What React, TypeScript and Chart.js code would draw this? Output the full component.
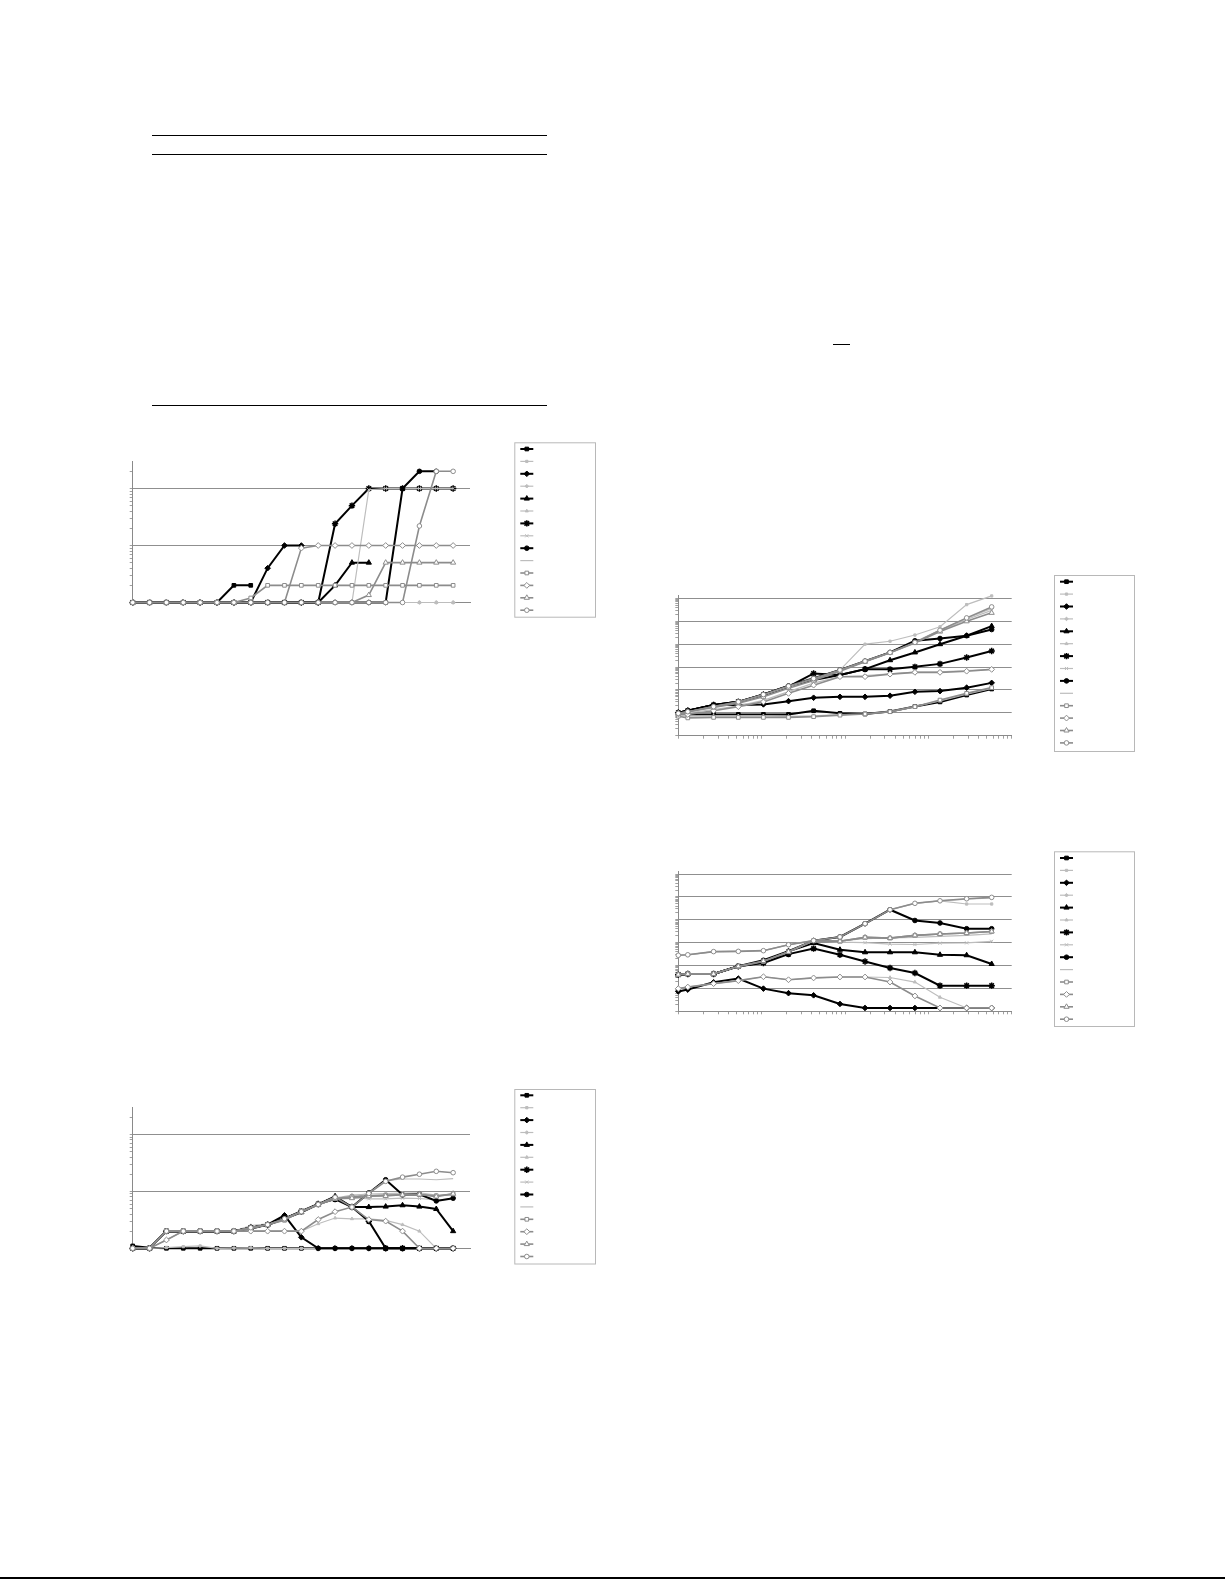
import React, { useEffect, useRef } from 'react';
import { Chart, registerables } from 'chart.js';
import { drawPoint } from 'chart.js/helpers';

Chart.register(...registerables);

// ---------------- data ----------------
const LEFT_X = [0, 1, 2, 3, 4, 5, 6, 7, 8, 9, 10, 11, 12, 13, 14, 15, 16, 17, 18, 19];
const RIGHT_X = [1, 1.3, 2.65, 5.25, 10.5, 21, 42, 87, 174, 347, 690, 1380, 2880, 5750];

const LEFT_Y_TICKS = [1, 2, 3, 4, 5, 6, 7, 8, 9, 10, 20, 30, 40, 50, 60, 70, 80, 90, 100, 200];
const LEFT_Y_MAX = 295;
const RIGHT_Y_MAX = 1318000;
const RIGHT_X_MAX = 10000;

const _ = null;

// top-left chart
const TL_S1 = [1, 1, 1, 1, 1, 1, 2, 2, _, _, _, _, _, _, _, _, _, _, _, _];
const TL_S2 = [1, 1, 1, 1, 1, 1, 1, 1, 1, 1, 1, 1, 1, 1, 1, 1, 1, 1, 1, 1];
const TL_S3 = [1, 1, 1, 1, 1, 1, 1, 1, 4, 10, 10, _, _, _, _, _, _, _, _, _];
const TL_S4 = [1, 1, 1, 1, 1, 1, 1, 1, 1, 1, 1, 1, 1, 1, 1, 1, 1, 1, 1, 1];
const TL_S5 = [1, 1, 1, 1, 1, 1, 1, 1, 1, 1, 1, 1, 2, 5, 5, _, _, _, _, _];
const TL_S6 = [1, 1, 1, 1, 1, 1, 1, 1, 1, 1, 1, 1, 1, 1, 1, 1, 1, 1, 1, 1];
const TL_S7 = [1, 1, 1, 1, 1, 1, 1, 1, 1, 1, 1, 1, 24, 50, 100, 100, 100, 100, 100, 100];
const TL_S8 = [1, 1, 1, 1, 1, 1, 1, 1, 1, 1, 1, 1, 1, 1, 95, 100, 100, 100, 100, 100];
const TL_S9 = [1, 1, 1, 1, 1, 1, 1, 1, 1, 1, 1, 1, 1, 1, 1, 1, 100, 200, 200, _];
const TL_S10 = [1, 1, 1, 1, 1, 1, 1, 1, 1, 1, 1, 1, 1, 1, 1, 1, 1, 1, 1, 1];
const TL_S11 = [1, 1, 1, 1, 1, 1, 1, 1.2, 2, 2, 2, 2, 2, 2, 2, 2, 2, 2, 2, 2];
const TL_S12 = [1, 1, 1, 1, 1, 1, 1, 1, 1, 1, 9, 10, 10, 10, 10, 10, 10, 10, 10, 10];
const TL_S13 = [1, 1, 1, 1, 1, 1, 1, 1, 1, 1, 1, 1, 1, 1, 1.35, 5, 5, 5, 5, 5];
const TL_S14 = [1, 1, 1, 1, 1, 1, 1, 1, 1, 1, 1, 1, 1, 1, 1, 1, 1, 22, 200, 200];

// bottom-left chart
const BL_S1 = [1.1, 1.02, 1, 1, 1, 1, 1, 1, 1, 1, 1, 1, 1, 1, 1, 1, 1, 1, 1, 1];
const BL_S2 = [1, 1, 1.03, 1.07, 1.1, 1, 1.01, 1.02, 1, 1, 1, 1, 1, 1, 1, 1, 1, 1, 1, 1];
const BL_S3 = [1, 1, 2, 2, 2, 2, 2, 2.2, 2.6, 3.8, 1.56, 1, 1, 1, 1, 1, 1, 1, 1, 1];
const BL_S4 = [1, 1, 2, 2, 2, 2, 2, 2.5, 2.7, 3.2, 4.4, 5.8, 7.6, 8.6, 9.0, 9.1, 9.3, 9.4, 8.6, 8.5];
const BL_S5 = [1, 1, 2, 2, 2, 2, 2, 2.3, 2.6, 3.3, 4.3, 5.9, 8.2, 5.3, 5.3, 5.4, 5.7, 5.4, 4.9, 2.0];
const BL_S6 = [1, 1, 1.4, 2, 2, 2, 2, 2, 2, 2, 2, 2.7, 3.4, 3.3, 3.3, 3.1, 2.6, 2.0, 1, 1];
const BL_S7 = [1, 1, 2, 2, 2, 2, 2, 2.3, 2.6, 3.3, 4.5, 6.0, 7.3, 5.3, 3.0, 1, 1, 1, 1, 1];
const BL_S8 = [1, 1, 2, 2, 2, 2, 2, 2.3, 2.6, 3.3, 4.4, 5.9, 7.6, 7.8, 7.4, 7.4, 7.6, 7.5, 7.1, 7.2];
const BL_S9 = [1, 1, 2, 2, 2, 2, 2, 2.3, 2.6, 3.3, 4.4, 5.9, 7.9, 5.3, 9.4, 16, 8.7, 8.9, 6.8, 7.6];
const BL_S10 = [1, 1, 2, 2, 2, 2, 2, 2.3, 2.6, 3.3, 4.4, 5.9, 7.9, 7.5, 9.4, 15.5, 16.5, 16.5, 16, 16.7];
const BL_S11 = [1, 1, 2, 2, 2, 2, 2, 2.2, 2.6, 3.1, 4.5, 5.8, 7.5, 8.1, 8.4, 8.6, 8.7, 8.8, 8.4, 9.0];
const BL_S12 = [1, 1, 1.4, 2, 2, 2, 2, 2, 2, 2, 2, 3.2, 4.4, 5.3, 3.2, 3.0, 2.0, 1, 1, 1];
const BL_S13 = [1, 1, 2, 2, 2, 2, 2, 2.3, 2.6, 3.2, 4.4, 5.8, 7.4, 7.6, 8.2, 8.3, 8.7, 8.8, 8.1, 9.1];
const BL_S14 = [1, 1, 2, 2, 2, 2, 2, 2.3, 2.6, 3.3, 4.4, 5.9, 7.9, 5.3, 9.2, 15, 17.8, 20, 22.5, 21.3];

// top-right chart
const TR_S1 = [9.3, 8.5, 8.5, 8.5, 8.5, 8.5, 12.3, 9.5, 8.9, 11.5, 19, 30, 60, 110];
const TR_S2 = [10, 12.3, 21.9, 31.6, 66, 158, 355, 741, 10000, 13490, 25120, 57540, 537000, 1288000];
const TR_S3 = [10, 12.3, 21.9, 21.9, 23.4, 32.4, 45.7, 50, 50, 56, 83, 89, 126, 204];
const TR_S4 = [9.8, 11.5, 19.5, 32, 66, 155, 330, 760, 1900, 4500, 12500, 42000, 135000, 363000];
const TR_S5 = [10, 12.3, 21.9, 30.2, 63, 148, 269, 447, 813, 1995, 4365, 10000, 23440, 61660];
const TR_S6 = [8, 7.2, 7.4, 7.4, 7.4, 7.0, 7.4, 8.3, 8.9, 11.2, 18.6, 33, 66, 117];
const TR_S7 = [10, 12.3, 21.9, 30.2, 60, 138, 525, 447, 813, 794, 1023, 1380, 2630, 5012];
const TR_S8 = [9.5, 10, 14, 20, 35, 85, 200, 380, 420, 500, 600, 620, 700, 800];
const TR_S9 = [10, 12.3, 21.9, 30.2, 63, 148, 316, 741, 1820, 4365, 14125, 17780, 23440, 43650];
const TR_S10 = [9.5, 11, 19, 29, 60, 140, 300, 700, 1750, 4200, 11500, 38000, 120000, 300000];
const TR_S11 = [7.1, 6.0, 6.3, 6.3, 6.3, 6.3, 6.8, 7.9, 8.9, 11.2, 18.6, 36, 71, 126];
const TR_S12 = [8.9, 8.5, 12.3, 18.6, 30, 71, 162, 380, 380, 490, 589, 589, 661, 794];
const TR_S13 = [9.5, 11.2, 17, 26, 50, 120, 260, 650, 1700, 4200, 11200, 35500, 100000, 234400];
const TR_S14 = [9.5, 11.2, 18.6, 30.2, 63, 148, 316, 741, 1820, 4365, 12020, 40740, 141250, 426580];

// bottom-right chart
const BR_S1 = [_, _, _, _, _, _, _, _, _, _, _, _, _, _];
const BR_S2 = [282, 295, 407, 417, 447, 813, 1230, 1778, 6760, 27540, 52480, 67610, 49000, 49000];
const BR_S3 = [7.4, 8.9, 18.6, 26.9, 9.8, 6.2, 5.0, 2.1, 1.4, 1.4, 1.4, 1.4, 1.4, 1.4];
const BR_S4 = [282, 295, 407, 417, 447, 813, 1230, 1778, 6760, 27540, 52480, 67610, 80000, 90000];
const BR_S5 = [40, 43, 43, 93, 135, 417, 955, 490, 380, 380, 380, 295, 282, 117];
const BR_S6 = [9.8, 11.5, 16.2, 21.9, 32.4, 24, 28.8, 31.6, 31.6, 30, 19, 4.1, 1.4, 1.4];
const BR_S7 = [40, 43, 43, 93, 129, 316, 550, 295, 151, 78, 47, 13.2, 13.2, 13.2];
const BR_S8 = [40, 43, 43, 93, 158, 398, 1230, 1050, 1000, 870, 830, 950, 980, 1150];
const BR_S9 = [40, 43, 43, 93, 170, 420, 1230, 1778, 6760, 27540, 9330, 7244, 4074, 4074];
const BR_S10 = [40, 43, 43, 93, 150, 400, 1200, 1200, 1500, 1600, 1700, 1900, 2100, 2400];
const BR_S11 = [40, 43, 43, 90, 150, 400, 1200, 1148, 1700, 1585, 2090, 2400, 2630, 3090];
const BR_S12 = [9.8, 11.5, 16.2, 21.9, 32.4, 24, 28.8, 31.6, 31.6, 19, 4.7, 1.4, 1.4, 1.4];
const BR_S13 = [40, 43, 43, 93, 158, 398, 1230, 1148, 1700, 1585, 2090, 2400, 2630, 3090];
const BR_S14 = [282, 295, 407, 417, 447, 813, 1230, 1778, 6760, 27540, 52480, 67610, 83180, 95500];

const TL_SERIES = [TL_S1, TL_S2, TL_S3, TL_S4, TL_S5, TL_S6, TL_S7, TL_S8, TL_S9, TL_S10, TL_S11, TL_S12, TL_S13, TL_S14];
const BL_SERIES = [BL_S1, BL_S2, BL_S3, BL_S4, BL_S5, BL_S6, BL_S7, BL_S8, BL_S9, BL_S10, BL_S11, BL_S12, BL_S13, BL_S14];
const TR_SERIES = [TR_S1, TR_S2, TR_S3, TR_S4, TR_S5, TR_S6, TR_S7, TR_S8, TR_S9, TR_S10, TR_S11, TR_S12, TR_S13, TR_S14];
const BR_SERIES = [BR_S1, BR_S2, BR_S3, BR_S4, BR_S5, BR_S6, BR_S7, BR_S8, BR_S9, BR_S10, BR_S11, BR_S12, BR_S13, BR_S14];

// ---------------- styles ----------------
type SStyle = { color: string; width: number; point: any; r: number; fill: string; bw: number };
const BLACK = '#000000';
const LIGHT = '#bdbdbd';
const MID = '#8c8c8c';
const STYLES: SStyle[] = [
  { color: BLACK, width: 2, point: 'rect', r: 2.6, fill: BLACK, bw: 1 },
  { color: LIGHT, width: 1.2, point: 'rect', r: 1.6, fill: LIGHT, bw: 1 },
  { color: BLACK, width: 2, point: 'rectRot', r: 2.8, fill: BLACK, bw: 1 },
  { color: LIGHT, width: 1.2, point: 'rectRot', r: 1.8, fill: LIGHT, bw: 1 },
  { color: BLACK, width: 2, point: 'triangle', r: 3, fill: BLACK, bw: 1 },
  { color: LIGHT, width: 1.2, point: 'triangle', r: 1.8, fill: LIGHT, bw: 1 },
  { color: BLACK, width: 2, point: 'star', r: 3.2, fill: BLACK, bw: 1.5 },
  { color: LIGHT, width: 1.2, point: 'crossRot', r: 2.2, fill: LIGHT, bw: 1 },
  { color: BLACK, width: 2, point: 'circle', r: 2.3, fill: BLACK, bw: 1 },
  { color: LIGHT, width: 1.2, point: 'circle', r: 0, fill: LIGHT, bw: 1 },
  { color: MID, width: 1.6, point: 'rect', r: 2.6, fill: '#ffffff', bw: 1 },
  { color: MID, width: 1.6, point: 'rectRot', r: 2.9, fill: '#ffffff', bw: 1 },
  { color: MID, width: 1.6, point: 'triangle', r: 3, fill: '#ffffff', bw: 1 },
  { color: MID, width: 1.6, point: 'circle', r: 2.3, fill: '#ffffff', bw: 1 },
];

function decadeTicks(fromExp: number, toExp: number): number[] {
  const out: number[] = [];
  for (let e = fromExp; e < toExp; e++) {
    for (let m = 1; m <= 9; m++) out.push(m * Math.pow(10, e));
  }
  out.push(Math.pow(10, toExp));
  return out;
}
const RIGHT_X_TICKS = decadeTicks(0, 4);
const RIGHT_Y_TICKS = decadeTicks(0, 6);

function isPow10(v: number) {
  const l = Math.log10(v);
  return Math.abs(l - Math.round(l)) < 1e-9;
}

function makeDatasets(xs: number[], series: (number | null)[][]) {
  const n = series.length;
  return series.map((vals, i) => {
    const s = STYLES[i];
    return {
      label: 'S' + (i + 1),
      data: xs.map((x, j) => ({ x, y: vals[j] })),
      borderColor: s.color,
      backgroundColor: s.color,
      borderWidth: s.width,
      pointStyle: s.point,
      pointRadius: s.r,
      pointBackgroundColor: s.fill,
      pointBorderColor: s.color,
      pointBorderWidth: s.bw,
      tension: 0,
      spanGaps: false,
      clip: false as any,
      order: n - i,
    };
  });
}

type LegendBox = { x: number; y: number; w: number; h: number; first: number; step: number };

function boxLegend(box: LegendBox) {
  return {
    id: 'boxLegend',
    afterDraw(chart: any) {
      const ctx = chart.ctx as CanvasRenderingContext2D;
      ctx.save();
      ctx.strokeStyle = '#b8b8b8';
      ctx.lineWidth = 1;
      ctx.strokeRect(box.x + 0.5, box.y + 0.5, box.w, box.h);
      chart.data.datasets.forEach((ds: any, i: number) => {
        const y = box.y + box.first + i * box.step;
        const x0 = box.x + 6;
        const x1 = box.x + 19;
        ctx.strokeStyle = ds.borderColor;
        ctx.lineWidth = ds.borderWidth;
        ctx.beginPath();
        ctx.moveTo(x0, y);
        ctx.lineTo(x1, y);
        ctx.stroke();
        if (ds.pointRadius > 0) {
          ctx.fillStyle = ds.pointBackgroundColor;
          ctx.strokeStyle = ds.pointBorderColor;
          ctx.lineWidth = ds.pointBorderWidth;
          drawPoint(ctx, { pointStyle: ds.pointStyle, radius: ds.pointRadius, rotation: 0, borderWidth: ds.pointBorderWidth } as any, (x0 + x1) / 2, y);
        }
      });
      ctx.restore();
    },
  };
}

type Spec = {
  left: number; top: number; w: number; h: number;
  pad: { left: number; top: number; right: number; bottom: number };
  legend: LegendBox;
  logX: boolean;
  xs: number[];
  series: (number | null)[][];
  yMax: number;
  yTicks: number[];
};

const AXIS = '#8a8a8a';
const GRID = '#8f8f8f';

function yScale(spec: Spec) {
  return {
    type: 'logarithmic',
    min: 1,
    max: spec.yMax,
    afterBuildTicks: (scale: any) => {
      scale.ticks = spec.yTicks.map((v) => ({ value: v, major: isPow10(v) }));
    },
    ticks: { display: false },
    grid: {
      display: true,
      drawOnChartArea: true,
      drawTicks: true,
      tickLength: 3,
      lineWidth: 1,
      color: (c: any) => {
        const v = c.tick ? c.tick.value : 0;
        return v > 1 && isPow10(v) ? GRID : 'rgba(0,0,0,0)';
      },
      tickColor: '#a0a0a0',
    },
    border: { display: true, color: AXIS, width: 1 },
  };
}

function xScale(spec: Spec) {
  if (spec.logX) {
    return {
      type: 'logarithmic',
      min: 1,
      max: RIGHT_X_MAX,
      afterBuildTicks: (scale: any) => {
        scale.ticks = RIGHT_X_TICKS.map((v) => ({ value: v, major: isPow10(v) }));
      },
      ticks: { display: false },
      grid: {
        display: true,
        drawOnChartArea: false,
        drawTicks: true,
        tickLength: 3,
        color: 'rgba(0,0,0,0)',
        tickColor: '#a0a0a0',
      },
      border: { display: true, color: AXIS, width: 1 },
    };
  }
  return {
    type: 'linear',
    min: 0,
    max: 20,
    ticks: { display: false },
    grid: { display: false, drawTicks: false, tickLength: 0 },
    border: { display: true, color: AXIS, width: 1 },
  };
}

function LineChart({ spec }: { spec: Spec }) {
  const ref = useRef<HTMLCanvasElement | null>(null);
  useEffect(() => {
    if (!ref.current) return;
    const chart = new Chart(ref.current, {
      type: 'line',
      data: { datasets: makeDatasets(spec.xs, spec.series) as any },
      options: {
        animation: false,
        responsive: false,
        events: [],
        layout: { padding: spec.pad },
        plugins: { legend: { display: false }, tooltip: { enabled: false }, title: { display: false } },
        scales: { x: xScale(spec) as any, y: yScale(spec) as any },
      },
      plugins: [boxLegend(spec.legend) as any],
    });
    return () => chart.destroy();
  }, []);
  return (
    <canvas
      ref={ref}
      width={spec.w}
      height={spec.h}
      style={{ position: 'absolute', left: spec.left, top: spec.top, width: spec.w, height: spec.h }}
    />
  );
}

const SPECS: Spec[] = [
  {
    left: 110, top: 430, w: 500, h: 200,
    pad: { left: 19.7, top: 31.7, right: 140, bottom: 27.5 },
    legend: { x: 404.3, y: 12.3, w: 80.7, h: 174.4, first: 6.7, step: 12.4 },
    logX: false, xs: LEFT_X, series: TL_SERIES, yMax: LEFT_Y_MAX, yTicks: LEFT_Y_TICKS,
  },
  {
    left: 110, top: 1070, w: 500, h: 200,
    pad: { left: 19.7, top: 37.7, right: 140, bottom: 21.7 },
    legend: { x: 404.3, y: 19, w: 80.7, h: 174.5, first: 6.3, step: 12.4 },
    logX: false, xs: LEFT_X, series: BL_SERIES, yMax: LEFT_Y_MAX, yTicks: LEFT_Y_TICKS,
  },
  {
    left: 660, top: 560, w: 480, h: 200,
    pad: { left: 15.3, top: 35.7, right: 128.3, bottom: 21.3 },
    legend: { x: 394, y: 15, w: 80, h: 176, first: 6.7, step: 12.4 },
    logX: true, xs: RIGHT_X, series: TR_SERIES, yMax: RIGHT_Y_MAX, yTicks: RIGHT_Y_TICKS,
  },
  {
    left: 660, top: 838, w: 480, h: 200,
    pad: { left: 15.3, top: 33.3, right: 128.3, bottom: 23.7 },
    legend: { x: 394, y: 13.3, w: 80, h: 174.7, first: 6.7, step: 12.4 },
    logX: true, xs: RIGHT_X, series: BR_SERIES, yMax: RIGHT_Y_MAX, yTicks: RIGHT_Y_TICKS,
  },
];

function Rule({ x, y, w, h }: { x: number; y: number; w: number; h: number }) {
  return <div style={{ position: 'absolute', left: x, top: y, width: w, height: h, background: '#000' }} />;
}

export default function App() {
  return (
    <div style={{ position: 'absolute', left: 0, top: 0, width: 1225, height: 1585, overflow: 'hidden', background: '#fff' }}>
      <Rule x={152} y={135} w={395} h={1} />
      <Rule x={152} y={154} w={395} h={1} />
      <Rule x={152} y={405} w={395} h={1} />
      <Rule x={833} y={344} w={17} h={1} />
      <Rule x={0} y={1577} w={1225} h={2} />
      {SPECS.map((s, i) => (
        <LineChart key={i} spec={s} />
      ))}
    </div>
  );
}
